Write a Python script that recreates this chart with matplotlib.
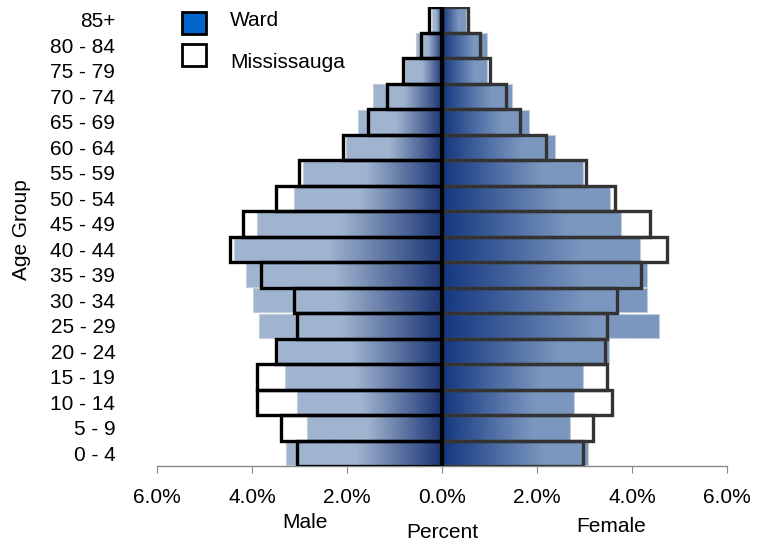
import numpy as np
import matplotlib.pyplot as plt
from matplotlib.patches import Rectangle
from matplotlib.colors import to_rgb

# bottom (0 - 4) to top (85+)
ages = ["0 - 4", "5 - 9", "10 - 14", "15 - 19", "20 - 24", "25 - 29", "30 - 34",
        "35 - 39", "40 - 44", "45 - 49", "50 - 54", "55 - 59", "60 - 64",
        "65 - 69", "70 - 74", "75 - 79", "80 - 84", "85+"]

# percent of population
ward_male = [3.28, 2.84, 3.05, 3.30, 3.45, 3.85, 3.98, 4.13, 4.38, 3.90,
             3.12, 2.93, 2.02, 1.77, 1.45, 0.78, 0.55, 0.21]
ward_female = [3.07, 2.69, 2.78, 2.97, 3.52, 4.57, 4.31, 4.31, 4.17, 3.77,
               3.54, 2.97, 2.38, 1.83, 1.47, 0.95, 0.95, 0.50]
miss_male = [3.05, 3.39, 3.90, 3.90, 3.49, 3.05, 3.12, 3.81, 4.46, 4.19,
             3.49, 3.01, 2.08, 1.56, 1.16, 0.82, 0.44, 0.27]
miss_female = [2.97, 3.18, 3.58, 3.47, 3.43, 3.47, 3.68, 4.19, 4.73, 4.38,
               3.64, 3.04, 2.19, 1.64, 1.35, 1.00, 0.80, 0.55]

xticks = [-6, -4, -2, 0, 2, 4, 6]


def gradient(dark, light, flat=0.35, n=200):
    # t = 0 at the centre line, 1 at the outer end of the bar
    t = np.linspace(0, 1, n)
    s = np.clip(t / (1 - flat), 0, 1)
    d, l = np.array(to_rgb(dark)), np.array(to_rgb(light))
    return d[None, :] * (1 - s[:, None]) + l[None, :] * s[:, None]


male_grad = gradient("#1b3575", "#a0b4cf", flat=0.45)
female_grad = gradient("#13367f", "#7b97bf", flat=0.30)

plt.rcParams["font.family"] = ["Liberation Sans", "DejaVu Sans"]

fig = plt.figure(figsize=(7.66, 5.44), dpi=100)
ax = fig.add_axes([157 / 766, 1 - 466 / 544, 570 / 766, 459 / 544])
ax.set_xlim(-6, 6)
ax.set_ylim(-0.5, len(ages) - 0.5)

h = 0.94
for i in range(len(ages)):
    m = ward_male[i]
    f = ward_female[i]
    ax.imshow(male_grad[::-1][None, :, :], extent=[-m, 0, i - h / 2, i + h / 2],
              aspect="auto", interpolation="bilinear", zorder=2)
    ax.add_patch(Rectangle((-m, i - h / 2), m, h, fill=False,
                           ec="#c5cdd9", lw=0.8, zorder=2.5))
    ax.imshow(female_grad[None, :, :], extent=[0, f, i - h / 2, i + h / 2],
              aspect="auto", interpolation="bilinear", zorder=2)
    ax.add_patch(Rectangle((0, i - h / 2), f, h, fill=False,
                           ec="#c5cdd9", lw=0.8, zorder=2.5))

# Mississauga as outlines on top
for i in range(len(ages)):
    ax.add_patch(Rectangle((-miss_male[i], i - 0.5), miss_male[i], 1.0, fill=False,
                           ec="black", lw=2.4, zorder=3, joinstyle="miter"))
    ax.add_patch(Rectangle((0, i - 0.5), miss_female[i], 1.0, fill=False,
                           ec="#333333", lw=2.4, zorder=3, joinstyle="miter"))

ax.axvline(0, color="black", lw=3, zorder=4)

for s in ["left", "right", "top"]:
    ax.spines[s].set_visible(False)
ax.spines["bottom"].set_color("#888888")
ax.spines["bottom"].set_linewidth(1)

ax.set_xticks(xticks)
ax.set_xticklabels(["%.1f%%" % abs(v) for v in xticks], fontsize=15)
ax.tick_params(axis="x", length=5, color="#888888", pad=11)
ax.set_yticks(range(len(ages)))
ax.set_yticklabels(ages, fontsize=15)
ax.tick_params(axis="y", length=0, pad=30)

fig.text(305 / 766, 1 - 523 / 544, "Male", ha="center", va="center", fontsize=15)
fig.text(442 / 766, 1 - 533 / 544, "Percent", ha="center", va="center", fontsize=15)
fig.text(611 / 766, 1 - 526 / 544, "Female", ha="center", va="center", fontsize=15)
fig.text(22 / 766, 1 - 230 / 544, "Age Group", ha="center", va="center", rotation=90,
         fontsize=15)

# legend
fig.patches.append(Rectangle((182 / 766, 1 - 34 / 544), 24 / 766, 22 / 544, transform=fig.transFigure,
                             fc="#0066cc", ec="black", lw=2))
fig.patches.append(Rectangle((182 / 766, 1 - 66 / 544), 24 / 766, 22 / 544, transform=fig.transFigure,
                             fc="white", ec="black", lw=2))
fig.text(230 / 766, 1 - 20 / 544, "Ward", ha="left", va="center", fontsize=15)
fig.text(230 / 766, 1 - 62 / 544, "Mississauga", ha="left", va="center", fontsize=15)

fig.savefig("out.png", dpi=100)
